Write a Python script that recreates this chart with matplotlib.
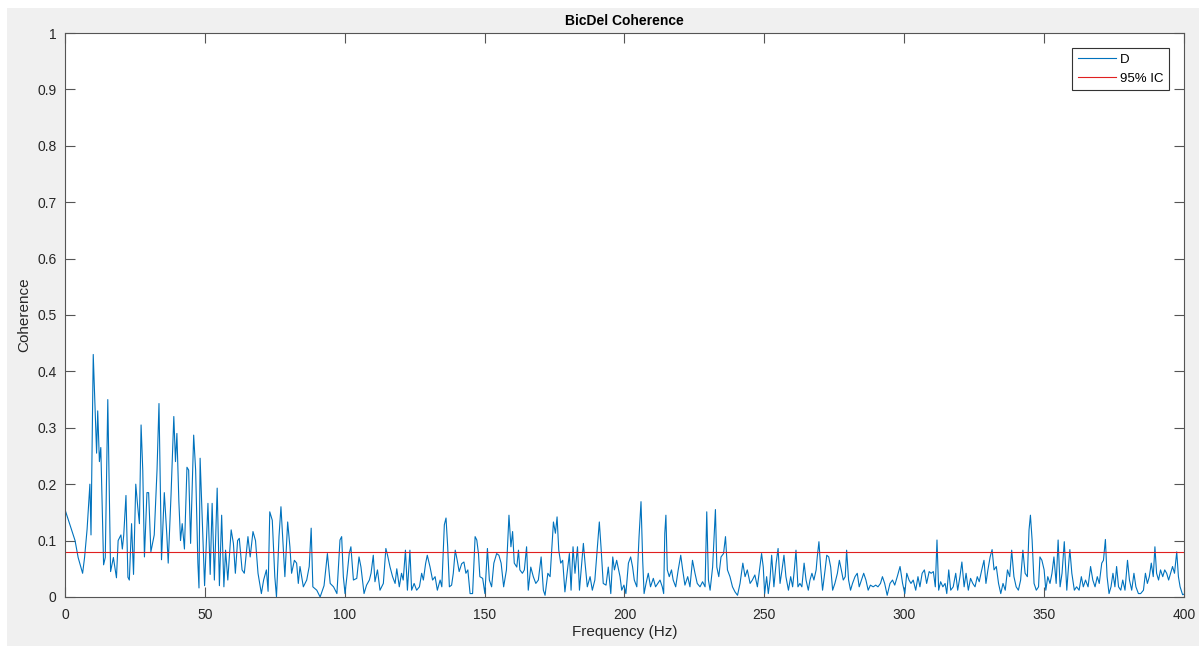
import matplotlib
matplotlib.use("Agg")
import matplotlib.pyplot as plt
from matplotlib.patches import Rectangle

# values, band by band (Hz, coherence)
freq_0_50 = [0.0, 3.6, 4.7, 6.3, 7.0, 7.9, 8.9, 9.3, 10.1, 11.3, 11.7, 12.3, 12.8, 13.8, 14.4,
             15.3, 16.3, 17.3, 18.4, 19.0, 20.0, 20.5, 21.0, 21.8, 22.5, 23.0, 23.8, 24.5, 25.3,
             26.0, 26.6, 27.2, 27.8, 28.4, 29.3, 29.9, 30.7, 31.9, 32.9, 33.6, 34.5, 35.5, 36.4,
             36.9, 37.9, 38.9, 39.5, 40.0, 40.7, 41.3, 41.9, 42.7, 43.6, 44.2, 44.9, 46.0, 46.7,
             47.5, 47.9]
coh_0_50 = [0.155, 0.10, 0.07, 0.042, 0.07, 0.12, 0.20, 0.11, 0.43, 0.255, 0.33, 0.24, 0.265, 0.057, 0.07,
            0.35, 0.045, 0.07, 0.034, 0.10, 0.11, 0.085, 0.11, 0.18, 0.035, 0.03, 0.13, 0.04, 0.20,
            0.16, 0.13, 0.305, 0.225, 0.071, 0.185, 0.185, 0.08, 0.11, 0.225, 0.343, 0.066, 0.185, 0.11,
            0.06, 0.18, 0.32, 0.24, 0.29, 0.17, 0.10, 0.13, 0.085, 0.23, 0.225, 0.095, 0.287, 0.225,
            0.06, 0.016]

freq_50_100 = [48.3, 49.2, 49.9, 51.1, 51.9, 52.6, 53.4, 54.4, 55.2, 56.0, 56.8, 57.4, 58.2, 59.4,
               60.2, 60.9, 61.7, 62.3, 63.3, 64.1, 65.4, 66.2, 67.2, 68.1, 69.0, 70.2, 71.0, 72.0,
               72.6, 73.2, 74.1, 75.0, 75.6, 76.5, 77.2, 78.0, 78.6, 79.6, 80.4, 81.0, 82.0, 82.8,
               83.4, 84.0, 85.2, 86.4, 87.3, 88.0, 88.6, 90.0, 91.2, 92.6, 93.8, 94.8, 96.0, 97.2]
coh_50_100 = [0.246, 0.119, 0.02, 0.166, 0.04, 0.166, 0.03, 0.193, 0.02, 0.145, 0.018, 0.083, 0.03, 0.119,
              0.095, 0.042, 0.10, 0.104, 0.048, 0.042, 0.107, 0.071, 0.116, 0.10, 0.042, 0.006, 0.03, 0.048,
              0.01, 0.151, 0.136, 0.036, 0.0, 0.107, 0.16, 0.089, 0.036, 0.133, 0.089, 0.042, 0.065, 0.06,
              0.024, 0.054, 0.018, 0.03, 0.054, 0.122, 0.018, 0.012, 0.0, 0.02, 0.077, 0.024, 0.018, 0.006]

freq_100_150 = [98.3, 98.9, 99.5, 100.1, 100.9, 101.6, 102.2, 103.1, 104.3, 105.1, 105.8, 106.9, 107.8,
                108.8, 109.4, 110.2, 110.8, 111.7, 112.6, 113.8, 114.7, 115.3, 116.2, 117.1, 118.0,
                118.6, 119.5, 120.3, 120.9, 121.7, 122.4, 123.3, 123.9, 124.8, 125.7, 126.7, 127.5,
                128.1, 128.9, 129.5, 130.5, 131.4, 132.3, 133.1, 134.1, 134.7, 135.6, 136.2, 136.8,
                137.4, 138.2, 138.8, 139.5, 140.2, 140.9, 141.8, 142.6, 143.3, 144.0, 144.8, 145.7,
                146.6, 147.2, 147.8]
coh_100_150 = [0.101, 0.107, 0.036, 0.006, 0.042, 0.077, 0.089, 0.03, 0.033, 0.071, 0.053, 0.006, 0.021,
               0.03, 0.042, 0.074, 0.027, 0.048, 0.012, 0.024, 0.086, 0.074, 0.053, 0.036, 0.024,
               0.05, 0.018, 0.042, 0.03, 0.083, 0.012, 0.083, 0.012, 0.024, 0.012, 0.018, 0.042,
               0.03, 0.059, 0.074, 0.053, 0.03, 0.036, 0.012, 0.03, 0.018, 0.128, 0.14, 0.089,
               0.018, 0.021, 0.042, 0.083, 0.065, 0.045, 0.059, 0.062, 0.042, 0.048, 0.006, 0.006,
               0.107, 0.101, 0.077]

freq_150_200 = [148.3, 149.3, 150.1, 151.0, 151.7, 152.5, 153.3, 154.3, 155.1, 155.9, 156.8, 157.8,
                158.7, 159.4, 160.0, 160.6, 161.5, 162.1, 162.6, 163.5, 164.2, 165.0, 165.6, 166.5,
                167.4, 168.3, 169.2, 170.2, 171.0, 171.6, 172.6, 173.4, 174.0, 174.6, 175.3, 175.9,
                176.5, 177.2, 177.9, 178.7, 179.6, 180.3, 180.9, 181.6, 182.3, 183.2, 183.9, 184.5,
                185.3, 185.9, 186.7, 187.7, 188.5, 189.4, 190.3, 191.0, 191.6, 192.4, 193.4, 194.2,
                195.1, 195.8, 196.4, 197.2]
coh_150_200 = [0.036, 0.033, 0.006, 0.086, 0.03, 0.018, 0.06, 0.077, 0.074, 0.06, 0.018, 0.048,
               0.145, 0.089, 0.116, 0.06, 0.053, 0.083, 0.048, 0.042, 0.048, 0.089, 0.012, 0.053,
               0.036, 0.024, 0.03, 0.071, 0.012, 0.003, 0.042, 0.036, 0.083, 0.133, 0.113, 0.142,
               0.083, 0.06, 0.065, 0.009, 0.048, 0.077, 0.012, 0.089, 0.042, 0.089, 0.012, 0.048,
               0.095, 0.06, 0.018, 0.036, 0.012, 0.03, 0.089, 0.133, 0.089, 0.024, 0.021, 0.053,
               0.006, 0.071, 0.048, 0.065]

freq_200_250 = [198.4, 199.0, 199.8, 200.5, 201.4, 202.2, 202.9, 203.5, 204.4, 205.2, 205.9, 206.5,
                207.0, 207.7, 208.5, 209.3, 210.3, 211.1, 211.9, 212.7, 213.5, 214.0, 214.4, 214.8,
                215.3, 216.0, 216.8, 217.4, 218.3, 219.2, 220.1, 220.8, 221.6, 222.6, 223.4, 224.3,
                225.2, 226.0, 227.0, 227.9, 228.8, 229.4, 230.0, 230.6, 231.5, 232.5, 233.0, 233.7,
                234.5, 235.4, 236.1, 236.8, 237.7, 238.6, 239.5, 240.4, 241.3, 242.3, 243.1, 243.9,
                244.9, 245.7, 246.6, 247.5, 248.4]
coh_200_250 = [0.036, 0.012, 0.021, 0.006, 0.06, 0.071, 0.053, 0.03, 0.018, 0.107, 0.169, 0.065,
               0.006, 0.024, 0.042, 0.018, 0.033, 0.018, 0.024, 0.03, 0.018, 0.006, 0.113, 0.145,
               0.048, 0.036, 0.048, 0.03, 0.018, 0.048, 0.074, 0.048, 0.021, 0.036, 0.018, 0.065,
               0.042, 0.024, 0.018, 0.027, 0.018, 0.151, 0.03, 0.012, 0.053, 0.155, 0.053, 0.036,
               0.071, 0.077, 0.107, 0.048, 0.036, 0.018, 0.009, 0.003, 0.024, 0.06, 0.036, 0.048,
               0.024, 0.03, 0.039, 0.018, 0.053]

freq_250_300 = [249.0, 249.6, 250.1, 250.8, 251.4, 252.0, 252.6, 253.4, 254.2, 254.9, 255.6, 256.3,
                257.0, 257.7, 258.6, 259.4, 260.1, 260.7, 261.3, 262.0, 262.7, 263.4, 264.2, 264.9,
                265.7, 266.3, 267.0, 267.7, 268.5, 268.9, 269.5, 270.1, 270.8, 271.7, 272.3, 273.0,
                273.7, 274.4, 275.2, 276.1, 276.8, 277.5, 278.2, 278.9, 279.4, 280.1, 280.8, 281.5,
                282.4, 283.2, 283.9, 284.7, 285.5, 286.3, 287.1, 287.9, 288.9, 289.8, 290.6, 291.5,
                292.2, 293.0, 293.9, 294.9, 295.8, 296.6, 297.5]
coh_250_300 = [0.077, 0.053, 0.006, 0.036, 0.006, 0.03, 0.074, 0.018, 0.06, 0.086, 0.024, 0.048,
               0.074, 0.036, 0.012, 0.036, 0.018, 0.048, 0.083, 0.018, 0.024, 0.018, 0.06, 0.03,
               0.012, 0.03, 0.042, 0.03, 0.048, 0.071, 0.098, 0.053, 0.012, 0.048, 0.074, 0.071,
               0.053, 0.012, 0.024, 0.042, 0.065, 0.048, 0.03, 0.036, 0.083, 0.03, 0.012, 0.024,
               0.036, 0.042, 0.018, 0.03, 0.042, 0.03, 0.012, 0.021, 0.018, 0.021, 0.018, 0.024,
               0.036, 0.024, 0.003, 0.024, 0.03, 0.021, 0.036]

freq_300_350 = [298.5, 299.4, 300.2, 300.9, 301.7, 302.4, 303.2, 304.1, 304.9, 305.6, 306.4, 307.2,
                308.0, 308.9, 309.6, 310.4, 311.1, 311.7, 312.3, 313.0, 313.8, 314.6, 315.2, 315.9,
                316.6, 317.5, 318.4, 319.1, 319.9, 320.6, 321.4, 322.1, 322.9, 323.7, 324.5, 325.3,
                326.1, 326.8, 327.7, 328.5, 329.2, 329.9, 330.7, 331.4, 332.1, 332.9, 333.7, 334.5,
                335.3, 336.1, 336.9, 337.7, 338.4, 339.2, 340.0, 340.8, 341.6, 342.4, 343.2, 344.0,
                344.6, 345.1, 345.7, 346.4, 347.2, 348.0]
coh_300_350 = [0.054, 0.024, 0.006, 0.042, 0.03, 0.024, 0.03, 0.012, 0.036, 0.018, 0.042, 0.048,
               0.024, 0.045, 0.042, 0.045, 0.018, 0.101, 0.012, 0.027, 0.018, 0.024, 0.006, 0.048,
               0.012, 0.018, 0.042, 0.012, 0.036, 0.062, 0.018, 0.042, 0.012, 0.033, 0.024, 0.018,
               0.036, 0.027, 0.048, 0.065, 0.024, 0.048, 0.071, 0.084, 0.048, 0.054, 0.024, 0.006,
               0.024, 0.012, 0.048, 0.036, 0.083, 0.036, 0.018, 0.012, 0.03, 0.083, 0.042, 0.036,
               0.119, 0.145, 0.101, 0.024, 0.012, 0.018]

freq_350_400 = [348.5, 349.2, 350.0, 350.6, 351.3, 352.1, 352.8, 353.5, 354.3, 355.0, 355.7, 356.4,
                357.2, 358.1, 358.8, 359.2, 359.9, 360.8, 361.6, 362.5, 363.3, 364.0, 364.8, 365.7,
                366.6, 367.4, 368.2, 369.0, 369.7, 370.6, 371.2, 371.9, 372.5, 373.2, 373.9, 374.6,
                375.3, 375.9, 376.6, 377.4, 378.1, 378.9, 379.8, 380.5, 381.3, 382.1, 382.8, 383.7,
                384.5, 385.5, 386.2, 386.9, 387.6, 388.3, 389.0, 389.6, 390.2, 390.9, 391.6, 392.4,
                393.1, 393.8, 394.5, 395.2, 395.9, 396.6, 397.4, 398.0, 398.6, 399.5, 400.0]
coh_350_400 = [0.071, 0.065, 0.048, 0.012, 0.036, 0.024, 0.042, 0.071, 0.024, 0.101, 0.018, 0.042,
               0.098, 0.012, 0.06, 0.084, 0.042, 0.012, 0.018, 0.012, 0.036, 0.018, 0.03, 0.018,
               0.054, 0.03, 0.018, 0.036, 0.024, 0.06, 0.065, 0.102, 0.036, 0.006, 0.018, 0.042,
               0.018, 0.054, 0.018, 0.012, 0.03, 0.012, 0.065, 0.03, 0.012, 0.042, 0.018, 0.006,
               0.006, 0.012, 0.042, 0.024, 0.036, 0.06, 0.036, 0.089, 0.042, 0.03, 0.048, 0.036,
               0.048, 0.042, 0.03, 0.042, 0.054, 0.042, 0.08, 0.036, 0.018, 0.004, 0.005]

ic_level = 0.08  # 95% confidence level

freq = (freq_0_50 + freq_50_100 + freq_100_150 + freq_150_200 + freq_200_250
        + freq_250_300 + freq_300_350 + freq_350_400)
coh = (coh_0_50 + coh_50_100 + coh_100_150 + coh_150_200 + coh_200_250
       + coh_250_300 + coh_300_350 + coh_350_400)

plt.rcParams['font.family'] = ['Liberation Sans', 'DejaVu Sans']

fig = plt.figure(figsize=(11.99, 6.46), dpi=100, facecolor='#f0f0f0')
# white strips along the top and left edges of the screenshot
fig.patches.append(Rectangle((0, 0.987), 1, 0.013, transform=fig.transFigure,
                             facecolor='white', edgecolor='none', zorder=-1))
fig.patches.append(Rectangle((0, 0), 0.006, 1, transform=fig.transFigure,
                             facecolor='white', edgecolor='none', zorder=-1))

ax = fig.add_axes([0.0542, 0.0759, 0.9333, 0.873])
ax.plot(freq, coh, color='#0072BD', lw=0.8, label='D')
ax.plot([0, 400], [ic_level, ic_level], color='#e02020', lw=0.8, label='95% IC')

ax.set_xlim(0, 400)
ax.set_ylim(0, 1)
ax.set_xticks(range(0, 401, 50))
yt = [i / 10 for i in range(11)]
ax.set_yticks(yt)
ax.set_yticklabels(['0'] + ['%.1f' % v for v in yt[1:-1]] + ['1'])

dark = '#262626'
for s in ax.spines.values():
    s.set_color('#555555')
    s.set_linewidth(0.8)
ax.tick_params(direction='in', length=7, width=0.8, color='#555555',
               labelcolor=dark, labelsize=10, top=True, right=True)
ax.tick_params(axis='x', pad=8)
ax.tick_params(axis='y', pad=6)

ax.set_title('BicDel Coherence', fontsize=10, fontweight='bold', color='black', pad=6)
ax.set_xlabel('Frequency (Hz)', fontsize=11, color=dark, labelpad=2)
ax.set_ylabel('Coherence', fontsize=11, color=dark, labelpad=4)

leg = ax.legend(loc='upper right', fontsize=9.5, fancybox=False, framealpha=1,
                edgecolor='#333333', borderaxespad=1.1, handlelength=2.9,
                handletextpad=0.3, borderpad=0.45, labelspacing=0.5)
leg.get_frame().set_linewidth(0.8)

fig.savefig('out.png', dpi=100, facecolor=fig.get_facecolor())
